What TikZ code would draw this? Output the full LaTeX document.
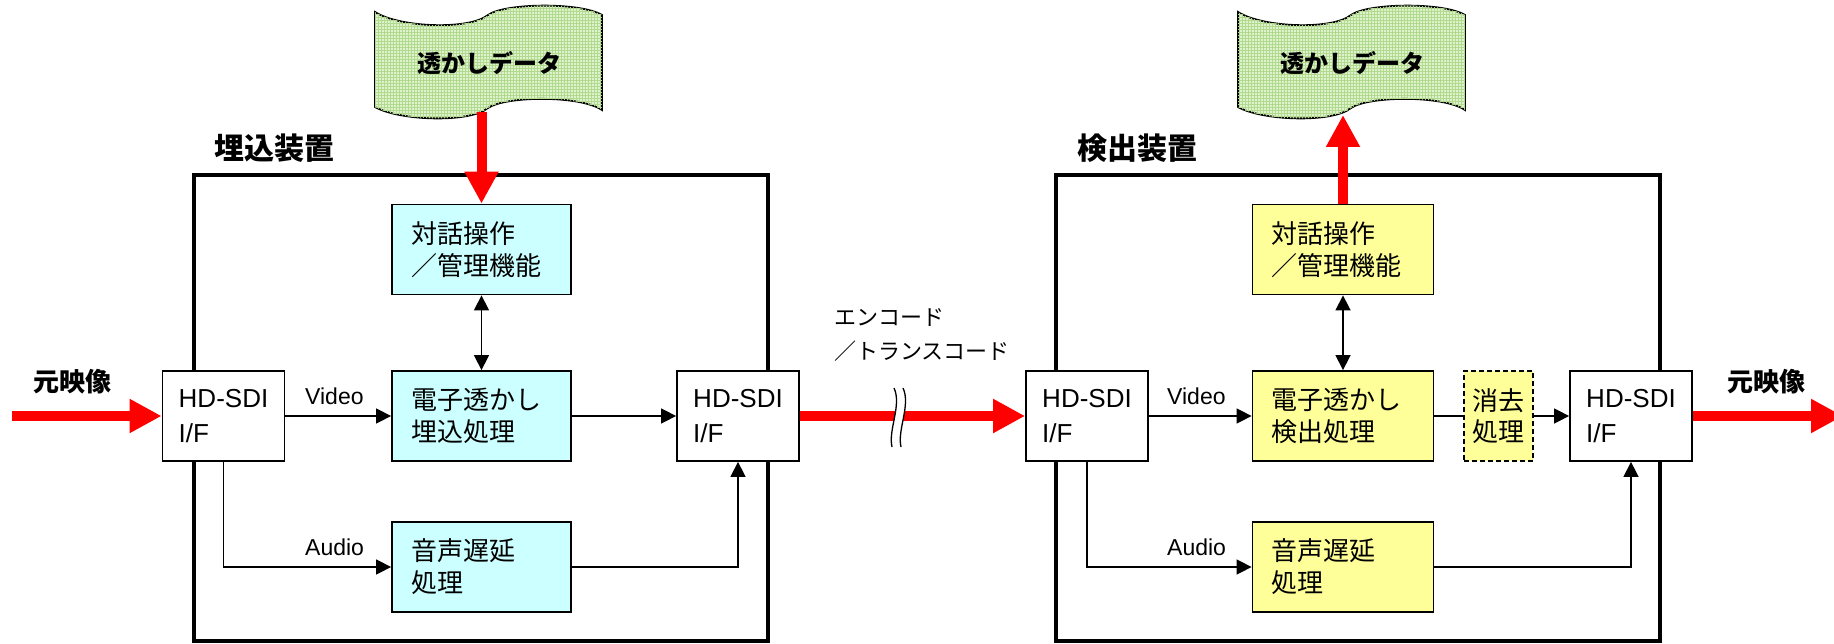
\documentclass[tikz,border=0pt]{standalone}
\usepackage{fontspec}
\setmainfont{Liberation Sans}
\newfontfamily\jp{Noto Sans CJK JP}
\usetikzlibrary{arrows.meta,patterns}
\definecolor{boxblue}{RGB}{204,255,255}
\definecolor{boxyellow}{RGB}{255,255,153}
\definecolor{bannergreen}{RGB}{222,242,205}
\definecolor{bannergrid}{RGB}{178,218,142}
\begin{document}
\begin{tikzpicture}[x=1pt,y=-1pt,
  container/.style={draw, line width=4.5pt},
  ifbox/.style={draw, line width=1.8pt, fill=white, minimum width=122pt, minimum height=90pt,
    inner xsep=15pt, inner ysep=0pt, align=left, font=\fontsize{26}{35}\selectfont},
  procL/.style={draw, line width=1.8pt, fill=boxblue, minimum height=90pt, text width=141pt,
    inner xsep=19pt, inner ysep=0pt, align=left, font=\jp\fontsize{26}{32}\selectfont},
  procR/.style={procL, fill=boxyellow, text width=143pt},
  erasebox/.style={draw, line width=1.8pt, dash pattern=on 5pt off 3pt, fill=boxyellow,
    minimum width=69pt, minimum height=90pt, inner sep=0pt, align=center,
    font=\jp\fontsize{26}{31}\selectfont},
  redarrow/.style={draw=red, line width=10pt, -{Triangle[length=32pt,width=32pt]}},
  thinarrow/.style={draw, line width=1.5pt, -{Triangle[length=15pt,width=15pt]}},
  botharrow/.style={draw, line width=1.5pt, {Triangle[length=15pt,width=15pt]}-{Triangle[length=15pt,width=15pt]}},
  thinline/.style={draw, line width=1.5pt},
  titletext/.style={font=\jp\bfseries\fontsize{30}{30}\selectfont, inner sep=0pt},
  srctext/.style={font=\jp\bfseries\fontsize{26}{26}\selectfont, inner sep=0pt},
  sigtext/.style={font=\fontsize{23}{23}\selectfont, inner sep=0pt},
  bannertext/.style={font=\jp\bfseries\fontsize{24}{24}\selectfont, inner sep=0pt},
  bannerpath/.style={draw=black, line width=1.8pt, fill=bannergreen,
    postaction={pattern=grid, pattern color=bannergrid}}
]
\useasboundingbox (0,0) rectangle (1834,644);

% containers
\draw[container] (194,175) rectangle (768,641);
\draw[container] (1056,175) rectangle (1660,641);

% banners
\begin{scope}[shift={(375,0)}]
\path[bannerpath] (0,12) .. controls (25,28) and (95,30) .. (113,15)
  .. controls (130,3) and (205,2) .. (227,15) -- (227,110)
  .. controls (205,95) and (130,96) .. (113,108)
  .. controls (95,123) and (25,121) .. (0,107) -- cycle;
\end{scope}
\begin{scope}[shift={(1238,0)}]
\path[bannerpath] (0,12) .. controls (25,28) and (95,30) .. (113,15)
  .. controls (130,3) and (205,2) .. (227,15) -- (227,110)
  .. controls (205,95) and (130,96) .. (113,108)
  .. controls (95,123) and (25,121) .. (0,107) -- cycle;
\end{scope}
\node[bannertext] (wmL) at (489,63) {透かしデータ};
\node[bannertext] (wmR) at (1352,63) {透かしデータ};
\coordinate (wmLbot) at (481.5,112);
\coordinate (wmRbot) at (1343,115);

% titles
\node[titletext, anchor=west] (tEmb) at (214,148) {埋込装置};
\node[titletext, anchor=west] (tDet) at (1077,148) {検出装置};
\node[srctext, anchor=west] (srcL) at (33,382) {元映像};
\node[srctext, anchor=west] (srcR) at (1727,382) {元映像};

% embedding device
\node[ifbox] (inL) at (223.5,416) {HD-SDI\\I/F};
\node[procL] (ctlL) at (481.5,249.5) {対話操作\\／管理機能};
\node[procL] (embL) at (481.5,416) {電子透かし\\埋込処理};
\node[procL] (audL) at (481.5,567) {音声遅延\\処理};
\node[ifbox] (outL) at (738,416) {HD-SDI\\I/F};

% detection device
\node[ifbox] (inR) at (1087,416) {HD-SDI\\I/F};
\node[procR] (ctlR) at (1343,249.5) {対話操作\\／管理機能};
\node[procR] (detR) at (1343,416) {電子透かし\\検出処理};
\node[erasebox] (ers) at (1498.5,416) {消去\\処理};
\node[procR] (audR) at (1343,567) {音声遅延\\処理};
\node[ifbox] (outR) at (1631,416) {HD-SDI\\I/F};

% signal labels
\node[sigtext, anchor=base west] (vidL) at (305,404) {Video};
\node[sigtext, anchor=base west] (audlblL) at (305,555) {Audio};
\node[sigtext, anchor=base west] (vidR) at (1167,404) {Video};
\node[sigtext, anchor=base west] (audlblR) at (1167,555) {Audio};
\node[font=\jp\fontsize{22}{34}\selectfont, align=left, anchor=west, inner sep=0pt] (enc) at (834,335) {エンコード\\／トランスコード};

% thin connectors, left
\draw[thinarrow] (inL.east) -- (embL.west);
\draw[thinarrow] (inL.south) |- (audL.west);
\draw[thinarrow] (embL.east) -- (outL.west);
\draw[thinarrow] (audL.east) -| (outL.south);
\draw[botharrow] (ctlL.south) -- (embL.north);

% thin connectors, right
\draw[thinarrow] (inR.east) -- (detR.west);
\draw[thinarrow] (inR.south) |- (audR.west);
\draw[thinline] (detR.east) -- (ers.west);
\draw[thinarrow] (ers.east) -- (outR.west);
\draw[thinarrow] (audR.east) -| (outR.south);
\draw[botharrow] (ctlR.south) -- (detR.north);

% red arrows
\coordinate (srcIn) at (12,416);
\coordinate (srcOut) at (1843,416);
\draw[redarrow] (srcIn) -- (inL.west);
\draw[redarrow] (wmLbot) -- (ctlL.north);
\draw[redarrow] (outL.east) -- (inR.west);
\draw[redarrow] (ctlR.north) -- (wmRbot);
\draw[redarrow] (outR.east) -- (srcOut);

% break mark
\fill[white] (894,388) .. controls (902,405) and (888,430) .. (892,447) -- (901,447)
  .. controls (897,430) and (911,405) .. (903,388) -- cycle;
\draw[line width=1.3pt] (894,388) .. controls (902,405) and (888,430) .. (892,447);
\draw[line width=1.3pt] (903,388) .. controls (911,405) and (897,430) .. (901,447);
\end{tikzpicture}
\end{document}
